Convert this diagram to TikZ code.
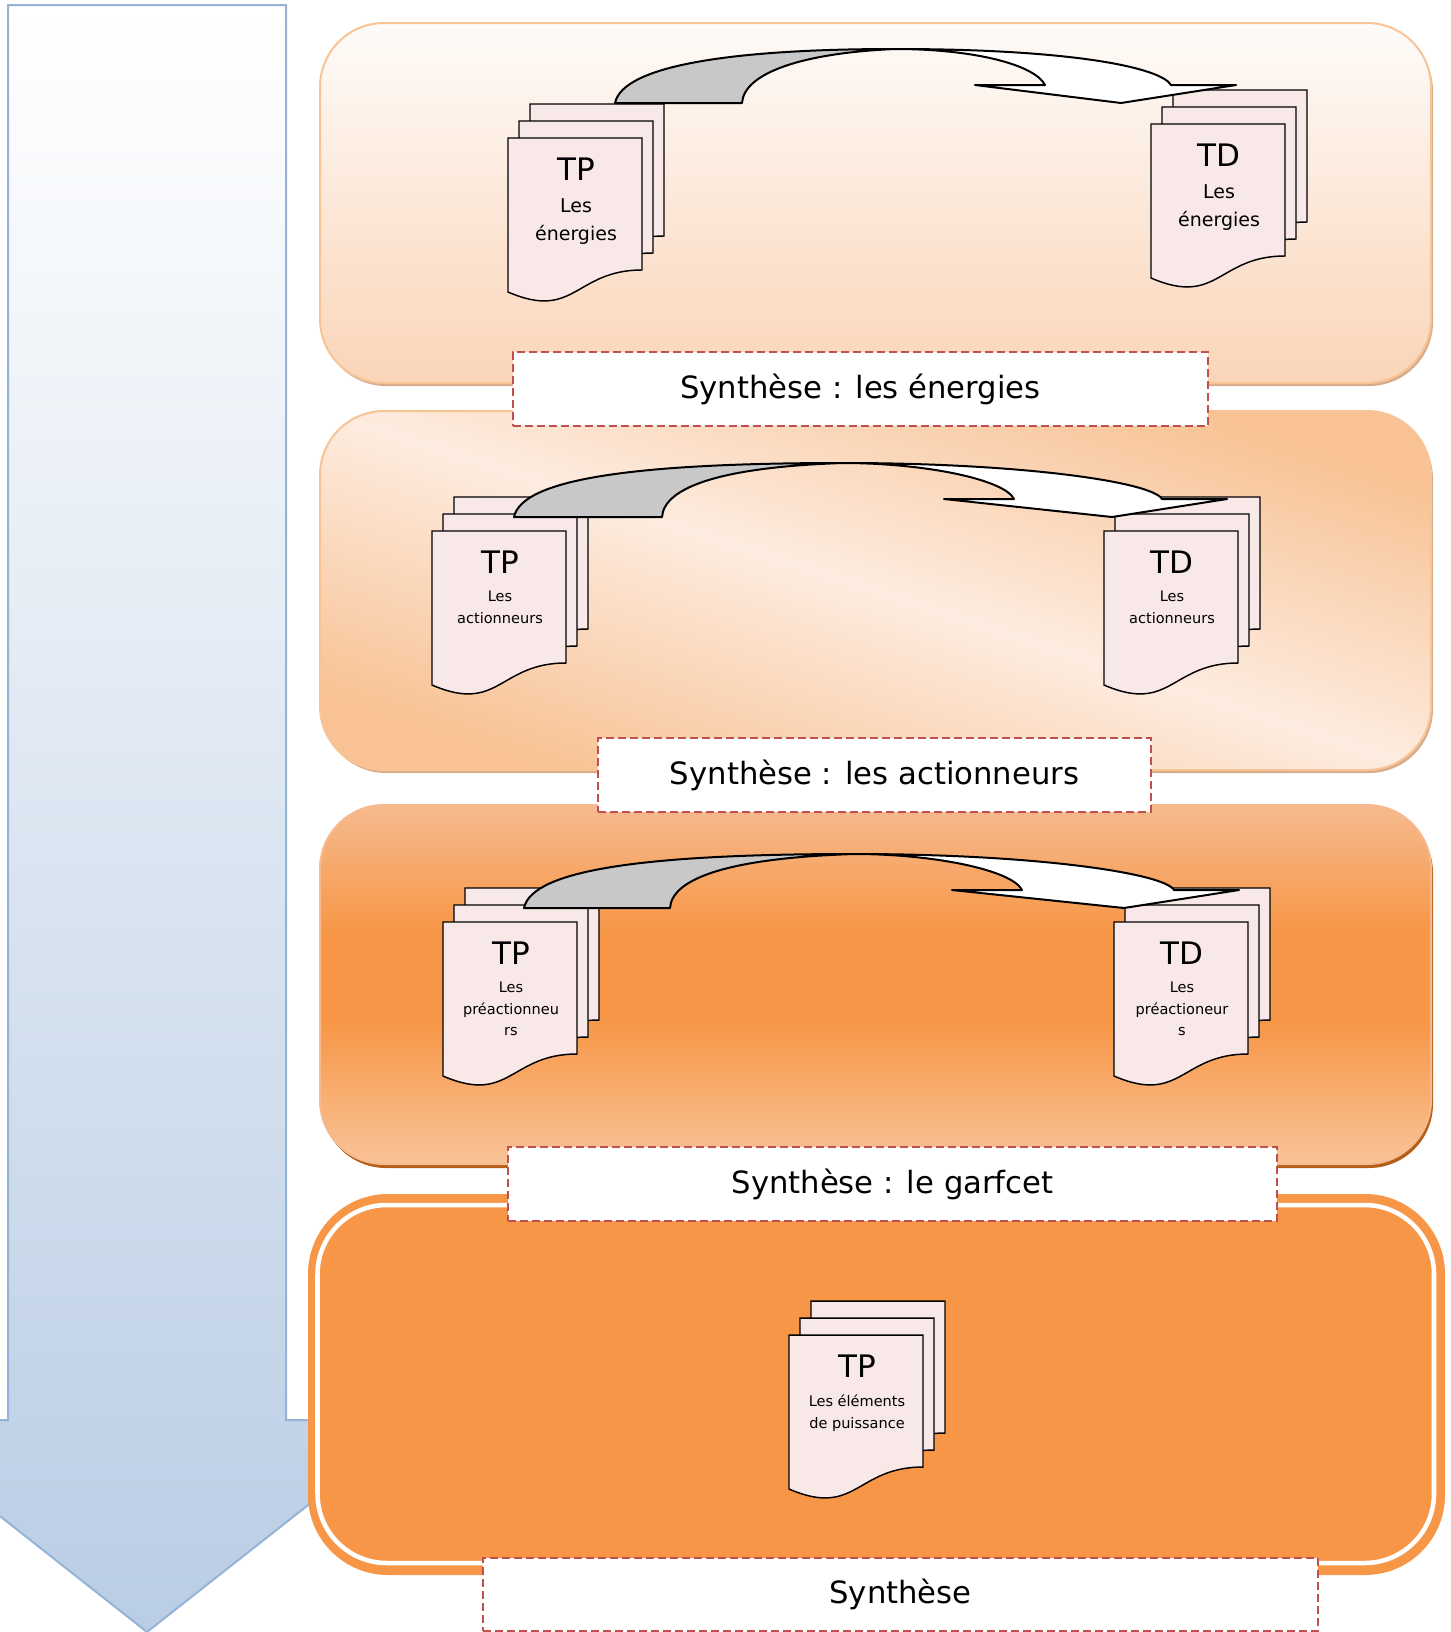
\documentclass[tikz,border=0pt]{standalone}
\usepackage{fontspec}
\setmainfont{DejaVu Sans}
\usetikzlibrary{shadings}
\definecolor{arrowblue}{RGB}{149,179,215}
\definecolor{arrowbot}{RGB}{185,205,228}
\definecolor{bandedge}{RGB}{248,196,150}
\definecolor{bandshadow}{RGB}{214,172,140}
\definecolor{bonetop}{RGB}{254,251,249}
\definecolor{bonebot}{RGB}{250,213,184}
\definecolor{btwodark}{RGB}{248,194,148}
\definecolor{btwolight}{RGB}{253,236,224}
\definecolor{bthreetop}{RGB}{246,186,142}
\definecolor{bthreemid}{RGB}{247,150,70}
\definecolor{bthreebot}{RGB}{249,195,152}
\definecolor{bthreeshadow}{RGB}{182,95,25}
\definecolor{bfour}{RGB}{247,150,70}
\definecolor{synthred}{RGB}{192,80,77}
\definecolor{pagepink}{RGB}{249,232,232}
\definecolor{bentgray}{RGB}{200,200,200}
\pgfdeclareverticalshading{boxthree}{100bp}{color(0bp)=(bthreebot); color(25bp)=(bthreebot);
  color(45bp)=(bthreemid); color(57bp)=(bthreemid); color(75bp)=(bthreetop); color(100bp)=(bthreetop)}
\tikzstyle{page}=[draw, line width=1.1pt, fill=pagepink]
\tikzstyle{doctitle}=[inner sep=0, font=\fontsize{23.25}{28}\selectfont]
\tikzstyle{docsub}=[inner sep=0, align=center, font=\fontsize{14.25}{21}\selectfont]
\tikzstyle{docsmall}=[inner sep=0, align=center, font=\fontsize{10.9}{16.1}\selectfont]
\tikzstyle{synth}=[draw=synthred, fill=white, line width=1.5pt, dash pattern=on 6pt off 3pt,
                   inner sep=0, font=\fontsize{23}{28}\selectfont]
\tikzstyle{band}=[line width=1.5pt, rounded corners=48pt]
\tikzstyle{bentback}=[draw, fill=bentgray, line width=1.5pt, line join=round]
\tikzstyle{bentfront}=[draw, fill=white, line width=1.5pt, line join=round]
% stack of three pages: [subtitle style] name, x, y (front page), title, subtitle
\newcommand{\docstack}[6][docsmall]{%
  \foreach \k in {2,1,0}{
    \begin{scope}[shift={({#3+11*\k},{#4-17*\k})}]
      \draw[page] (0,0) -- (134,0) -- (134,132) .. controls (67,132) and (67,183) .. (0,154) -- cycle;
    \end{scope}
  }
  \node[doctitle] (#2) at ({#3+68},{#4+31}) {#5};
  \node[#1, anchor=north] (#2sub) at ({#3+68},{#4+60}) {#6};
}
% curved block arrow: base y, outer x, inner x, crest x, inner end x, tip x
\newcommand{\bentarrow}[6]{%
  \draw[bentback] (#2,#1) .. controls ({#2+8},{#1-38}) and ({#2+120},{#1-54}) .. (#4,{#1-54})
    .. controls ({#3+60},{#1-50}) and ({#3+2},{#1-30}) .. (#3,#1) -- cycle;
  \draw[bentfront] (#4,{#1-54}) .. controls ({#4+180},{#1-54}) and ({#6+40},{#1-35}) .. ({#6+50},{#1-18})
    -- ({#6+115},{#1-18}) -- (#6,#1) -- ({#5-70},{#1-18}) -- (#5,{#1-18})
    .. controls ({#5-10},{#1-38}) and ({#4+80},{#1-54}) .. (#4,{#1-54}) -- cycle;
}

\begin{document}
\begin{tikzpicture}[x=0.75pt, y=-0.75pt]
    \useasboundingbox (0,0) rectangle (1450,1632);
    % time arrow
    \draw[arrowblue, line width=1.5pt, top color=white, bottom color=arrowbot]
        (8,5) -- (286,5) -- (286,1420) -- (416,1420) -- (147,1632) -- (-122,1420) -- (8,1420) -- cycle;
    % bands
    \fill[bandshadow, rounded corners=48pt] (322,27) rectangle (1433,386);
    \draw[band, draw=bandedge, top color=bonetop, bottom color=bonebot] (320,23) rectangle (1431,383);
    \fill[bandshadow, rounded corners=48pt] (322,415) rectangle (1433,773);
    \draw[band, draw=bandedge, top color=btwodark, bottom color=btwodark, middle color=btwolight,
          shading angle=-18] (320,411) rectangle (1431,770);
    \fill[bthreeshadow, rounded corners=48pt] (322,809) rectangle (1433,1168);
    \draw[band, draw=bthreetop, shading=boxthree] (320,805) rectangle (1431,1164);
    \fill[bfour, rounded corners=60pt] (308,1194) rectangle (1445,1575);
    \draw[white, line width=3.4pt, rounded corners=52pt] (317.5,1205) rectangle (1434,1563);
    % documents
    \docstack[docsub]{tp1}{508}{138}{TP}{Les\\énergies}
    \docstack[docsub]{td1}{1151}{124}{TD}{Les\\énergies}
    \docstack{tp2}{432}{531}{TP}{Les\\actionneurs}
    \docstack{td2}{1104}{531}{TD}{Les\\actionneurs}
    \docstack{tp3}{443}{922}{TP}{Les\\préactionneu\\rs}
    \docstack{td3}{1114}{922}{TD}{Les\\préactioneur\\s}
    \docstack{tp4}{789}{1335}{TP}{Les éléments\\de puissance}
    % curved arrows
    \bentarrow{103}{615}{742}{895}{1045}{1121}
    \bentarrow{517}{514}{662}{843}{1014}{1112}
    \bentarrow{908}{524}{670}{854}{1022}{1124}
    % syntheses
    \node[synth, minimum width=695*0.75pt, minimum height=74*0.75pt] (syn1) at (860.5,389) {Synthèse : les énergies};
    \node[synth, minimum width=553*0.75pt, minimum height=74*0.75pt] (syn2) at (874.5,775) {Synthèse : les actionneurs};
    \node[synth, minimum width=769*0.75pt, minimum height=74*0.75pt] (syn3) at (892.5,1184) {Synthèse : le garfcet};
    \node[synth, minimum width=835*0.75pt, minimum height=73*0.75pt] (syn4) at (900.5,1594.5) {Synthèse};
\end{tikzpicture}
\end{document}
